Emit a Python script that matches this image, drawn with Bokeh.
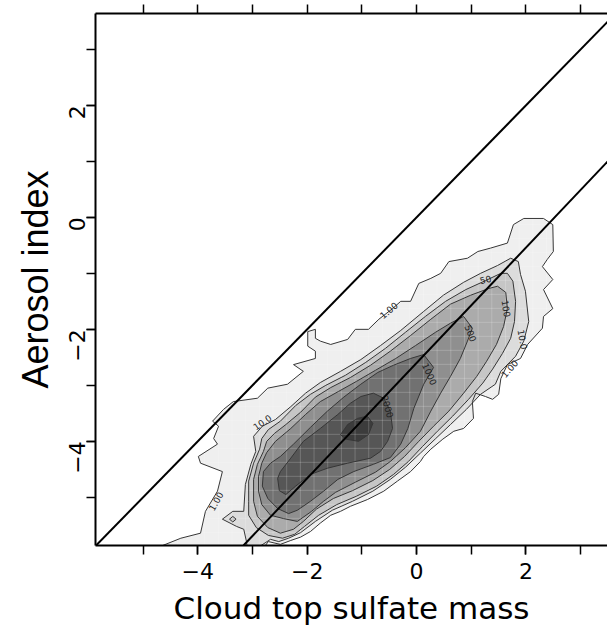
import math
import numpy as np
from bokeh.plotting import figure
from bokeh.models import Range1d, LinearAxis, FixedTicker, Slope
from bokeh.embed import file_html
from bokeh.resources import INLINE
from bokeh.core.properties import value

# ---------------- data ----------------
# contour levels of the 2-D histogram (counts) and their fill greys
levels = ["1.00", "10.0", "50", "100", "500", "1000", "2000", "5000"]
level_fill = ["#efefef", "#dcdcdc", "#c6c6c6", "#ababab", "#8f8f8f", "#717171", "#565656", "#3c3c3c"]

c1 = [(-4.72,-6.10),(-4.72,-5.89),(-4.31,-5.73),(-3.95,-5.64),(-3.86,-5.25),(-3.64,-4.89),(-3.55,-4.54),
      (-3.95,-4.39),(-3.99,-4.27),(-3.64,-4.05),(-3.71,-3.95),(-3.62,-3.73),(-3.73,-3.64),(-3.53,-3.43),
      (-3.35,-3.29),(-2.91,-3.23),(-2.72,-3.05),(-2.36,-2.98),(-2.07,-2.75),(-2.25,-2.63),(-1.85,-2.52),
      (-1.85,-2.39),(-1.99,-2.30),(-1.99,-2.04),(-1.85,-2.00),(-1.85,-2.16),(-1.76,-2.21),(-1.57,-2.27),
      (-1.26,-2.18),(-1.12,-2.00),(-0.88,-2.00),(-0.69,-1.82),(-0.44,-1.63),(-0.29,-1.50),(-0.11,-1.50),
      (0.04,-1.18),(0.26,-1.09),(0.44,-1.00),(0.59,-0.79),(0.93,-0.73),(1.12,-0.61),(1.35,-0.55),
      (1.66,-0.46),(1.77,-0.13),(1.96,-0.02),(2.32,-0.02),(2.49,-0.13),(2.50,-0.61),(2.39,-0.75),
      (2.30,-0.88),(2.49,-1.11),(2.32,-1.29),(2.49,-1.63),(2.32,-1.77),(2.30,-1.98),(2.03,-2.27),
      (1.90,-2.52),(1.66,-2.63),(1.54,-2.88),(1.50,-3.16),(1.39,-3.25),(1.26,-3.20),(1.08,-3.14),
      (1.02,-3.29),(1.04,-3.59),(0.86,-3.77),(0.68,-3.82),(0.48,-3.96),(0.26,-4.14),(0.13,-4.27),
      (0.07,-4.36),(-0.11,-4.54),(-0.35,-4.71),(-0.60,-4.89),(-0.90,-5.04),(-1.21,-5.16),(-1.39,-5.25),
      (-1.57,-5.32),(-1.76,-5.46),(-1.94,-5.61),(-2.12,-5.71),(-2.30,-5.77),(-2.49,-5.84),(-2.71,-5.79),
      (-2.82,-5.93),(-2.82,-6.10)]

c2 = [(-3.07,-6.10),(-3.11,-5.79),(-3.16,-5.57),(-3.29,-5.52),(-3.55,-5.39),(-3.36,-5.25),(-3.16,-5.25),
      (-3.13,-4.77),(-3.03,-4.41),(-2.94,-4.18),(-2.98,-3.91),(-2.82,-3.73),(-2.58,-3.61),(-2.30,-3.38),
      (-2.03,-3.14),(-1.76,-2.95),(-1.39,-2.75),(-1.02,-2.54),(-0.66,-2.29),(-0.29,-2.02),(0.13,-1.68),
      (0.49,-1.39),(0.86,-1.16),(1.17,-1.00),(1.48,-0.86),(1.72,-0.73),(1.86,-0.79),(1.90,-1.02),
      (1.99,-1.32),(2.05,-1.86),(1.96,-2.21),(1.81,-2.48),(1.54,-2.75),(1.44,-2.98),(1.17,-3.16),
      (0.91,-3.43),(0.62,-3.70),(0.35,-3.95),(0.07,-4.21),(-0.20,-4.46),(-0.48,-4.68),(-0.80,-4.89),
      (-1.17,-5.07),(-1.54,-5.23),(-1.85,-5.43),(-2.12,-5.63),(-2.34,-5.73),(-2.52,-5.79),(-2.67,-5.75),
      (-2.89,-5.89),(-2.89,-6.10)]

c3_spot = [(-3.42,-5.39),(-3.36,-5.34),(-3.30,-5.39),(-3.36,-5.44)]

c3 = [(-3.07,-5.32),(-3.07,-5.07),(-3.07,-4.71),(-2.98,-4.39),(-2.87,-4.14),(-2.83,-3.95),(-2.71,-3.79),
      (-2.49,-3.64),(-2.21,-3.36),(-1.94,-3.16),(-1.66,-3.00),(-1.30,-2.82),(-0.93,-2.59),(-0.57,-2.34),
      (-0.20,-2.05),(0.16,-1.77),(0.53,-1.50),(0.90,-1.29),(1.26,-1.13),(1.54,-1.00),(1.66,-1.00),
      (1.76,-1.14),(1.81,-1.50),(1.79,-1.86),(1.72,-2.16),(1.57,-2.43),(1.39,-2.71),(1.21,-2.96),
      (0.95,-3.25),(0.66,-3.55),(0.38,-3.82),(0.11,-4.09),(-0.15,-4.36),(-0.42,-4.59),(-0.73,-4.80),
      (-1.10,-4.98),(-1.46,-5.13),(-1.79,-5.32),(-2.05,-5.52),(-2.23,-5.66),(-2.45,-5.73),(-2.71,-5.68),
      (-2.93,-5.54)]

c4 = [(-2.91,-5.34),(-2.98,-5.07),(-2.98,-4.68),(-2.91,-4.41),(-2.80,-4.18),(-2.74,-4.00),(-2.60,-3.86),
      (-2.39,-3.70),(-2.12,-3.48),(-1.85,-3.21),(-1.57,-3.04),(-1.21,-2.86),(-0.84,-2.64),(-0.48,-2.39),
      (-0.11,-2.11),(0.26,-1.82),(0.62,-1.55),(0.99,-1.39),(1.32,-1.27),(1.48,-1.23),(1.63,-1.34),
      (1.66,-1.63),(1.59,-1.95),(1.46,-2.27),(1.28,-2.57),(1.10,-2.84),(0.86,-3.14),(0.59,-3.46),
      (0.31,-3.73),(0.04,-4.00),(-0.22,-4.27),(-0.49,-4.50),(-0.80,-4.70),(-1.17,-4.88),(-1.52,-5.02),
      (-1.83,-5.21),(-2.07,-5.43),(-2.25,-5.57),(-2.49,-5.64),(-2.72,-5.54)]

c5 = [(-2.83,-5.13),(-2.89,-4.89),(-2.89,-4.63),(-2.83,-4.39),(-2.74,-4.20),(-2.58,-4.00),(-2.30,-3.77),
      (-2.03,-3.52),(-1.76,-3.29),(-1.43,-3.11),(-1.10,-2.93),(-0.75,-2.73),(-0.38,-2.52),(-0.02,-2.29),
      (0.35,-2.05),(0.62,-1.89),(0.86,-1.77),(1.02,-1.98),(0.93,-2.21),(0.80,-2.52),(0.62,-2.84),
      (0.44,-3.14),(0.26,-3.46),(0.07,-3.82),(-0.20,-4.11),(-0.48,-4.36),(-0.75,-4.55),(-1.12,-4.73),
      (-1.48,-4.91),(-1.70,-5.07),(-1.92,-5.25),(-2.18,-5.43),(-2.43,-5.38),(-2.67,-5.32)]

c6 = [(-2.82,-4.80),(-2.80,-4.54),(-2.67,-4.39),(-2.49,-4.27),(-2.25,-4.05),(-1.94,-3.75),(-1.63,-3.46),
      (-1.33,-3.21),(-1.02,-2.98),(-0.71,-2.77),(-0.42,-2.64),(-0.11,-2.52),(0.13,-2.45),(0.31,-2.68),
      (0.13,-2.98),(-0.05,-3.41),(-0.16,-3.77),(-0.29,-4.05),(-0.48,-4.29),(-0.79,-4.41),(-1.15,-4.54),
      (-1.44,-4.68),(-1.70,-4.89),(-1.94,-5.07),(-2.18,-5.23),(-2.34,-5.29),(-2.54,-5.20),(-2.72,-5.02)]

c7 = [(-2.54,-4.66),(-2.49,-4.54),(-2.30,-4.30),(-2.07,-4.00),(-1.76,-3.77),(-1.44,-3.52),(-1.21,-3.32),
      (-1.02,-3.20),(-0.79,-3.14),(-0.60,-3.23),(-0.48,-3.46),(-0.44,-3.77),(-0.53,-4.00),(-0.66,-4.18),
      (-0.84,-4.30),(-1.26,-4.39),(-1.63,-4.48),(-1.94,-4.59),(-2.21,-4.80),(-2.39,-4.95),(-2.51,-4.88)]

c8 = [(-1.39,-3.88),(-1.26,-3.70),(-1.08,-3.59),(-0.90,-3.55),(-0.80,-3.68),(-0.88,-3.88),(-1.06,-4.00),
      (-1.30,-3.96)]

# contour labels
label_text = ["1.00", "1.00", "1.00", "10.0", "10.0", "50", "100", "500", "1000", "2000"]
label_x = [-0.51, -3.67, 1.70, -2.82, 1.94, 1.26, 1.64, 0.99, 0.24, -0.53]
label_y = [-1.66, -5.07, -2.70, -3.66, -2.18, -1.11, -1.63, -2.07, -2.80, -3.38]
label_angle = [0.70, 1.05, 0.85, 0.60, -1.40, 0.25, -1.40, -1.20, -1.15, -1.30]

# reference lines: (gradient, intercept)
one_to_one = (1.0, 0.0)
fit_line = (1.03, -2.60)

# axes
x_major = [-4, -2, 0, 2]
x_labels = ["\u22124", "\u22122", "0", "2"]
y_major = [-4, -2, 0, 2]
y_labels = ["\u22124", "\u22122", "0", "2"]
minor = [-5, -4, -3, -2, -1, 0, 1, 2, 3]
bin_width = 0.25

# ---------------- figure ----------------
p = figure(width=607, height=628,
           x_range=Range1d(-5.87, 3.49), y_range=Range1d(-5.86, 3.64),
           output_backend="svg", toolbar_location=None,
           min_border_left=95, min_border_right=0, min_border_top=13, min_border_bottom=83)
p.outline_line_color = None
p.xgrid.visible = False
p.ygrid.visible = False
p.background_fill_color = "white"
p.border_fill_color = "white"

polys = [c1, c2, c3, c4, c5, c6, c7, c8]
xs = [[pt[0] for pt in c] for c in polys]
ys = [[pt[1] for pt in c] for c in polys]

# fills
p.patches(xs=xs, ys=ys, fill_color=level_fill, line_color=None)
p.patch([pt[0] for pt in c3_spot], [pt[1] for pt in c3_spot], fill_color=level_fill[2], line_color=None)

# faint white histogram-bin grid
gx = np.arange(-5.875, 3.6, bin_width)
gy = np.arange(-5.875, 3.7, bin_width)
p.segment(x0=gx, y0=[-6.2] * len(gx), x1=gx, y1=[3.8] * len(gx),
          line_color="white", line_alpha=0.2, line_width=1)
p.segment(x0=[-6.0] * len(gy), y0=gy, x1=[3.6] * len(gy), y1=gy,
          line_color="white", line_alpha=0.2, line_width=1)

# contour lines
p.patches(xs=xs, ys=ys, fill_color=None, line_color="#363636", line_width=1)
p.patch([pt[0] for pt in c3_spot], [pt[1] for pt in c3_spot], fill_color=None,
        line_color="#363636", line_width=1)

# contour labels
p.text(x=label_x, y=label_y, text=label_text, angle=label_angle,
       text_font=value("DejaVu Sans"), text_font_size="9px", text_color="#222222",
       text_align="center", text_baseline="middle")

# reference lines
for g, b in (one_to_one, fit_line):
    p.add_layout(Slope(gradient=g, y_intercept=b, line_color="black", line_width=2))


def style(ax):
    ax.axis_line_width = 2
    ax.axis_line_color = "black"
    ax.major_tick_line_width = 1.5
    ax.minor_tick_line_width = 1.5
    ax.major_tick_line_color = "black"
    ax.minor_tick_line_color = "black"
    ax.major_tick_out = 9
    ax.major_tick_in = 0
    ax.minor_tick_out = 9
    ax.minor_tick_in = 0


xa = p.xaxis[0]
style(xa)
xa.ticker = FixedTicker(ticks=x_major, minor_ticks=minor)
xa.major_label_overrides = dict(zip(x_major, x_labels))
xa.major_label_text_font = "DejaVu Sans"
xa.major_label_text_font_size = "22px"
xa.major_label_text_color = "black"
xa.major_label_standoff = 8
xa.axis_label = "Cloud top sulfate mass"
xa.axis_label_text_font = "DejaVu Sans"
xa.axis_label_text_font_size = "31px"
xa.axis_label_text_font_style = "normal"
xa.axis_label_text_color = "black"
xa.axis_label_standoff = 8

ya = p.yaxis[0]
style(ya)
ya.ticker = FixedTicker(ticks=y_major, minor_ticks=minor)
ya.major_label_overrides = dict(zip(y_major, y_labels))
ya.major_label_orientation = math.pi / 2
ya.major_label_text_font = "DejaVu Sans"
ya.major_label_text_font_size = "22px"
ya.major_label_text_color = "black"
ya.major_label_standoff = 9
ya.axis_label = "Aerosol index"
ya.axis_label_text_font = "Liberation Sans"
ya.axis_label_text_font_size = "36px"
ya.axis_label_text_font_style = "normal"
ya.axis_label_text_color = "black"
ya.axis_label_standoff = 3

top = LinearAxis(ticker=FixedTicker(ticks=[], minor_ticks=minor))
style(top)
p.add_layout(top, "above")

open("out.html", "w").write(file_html(p, INLINE))
